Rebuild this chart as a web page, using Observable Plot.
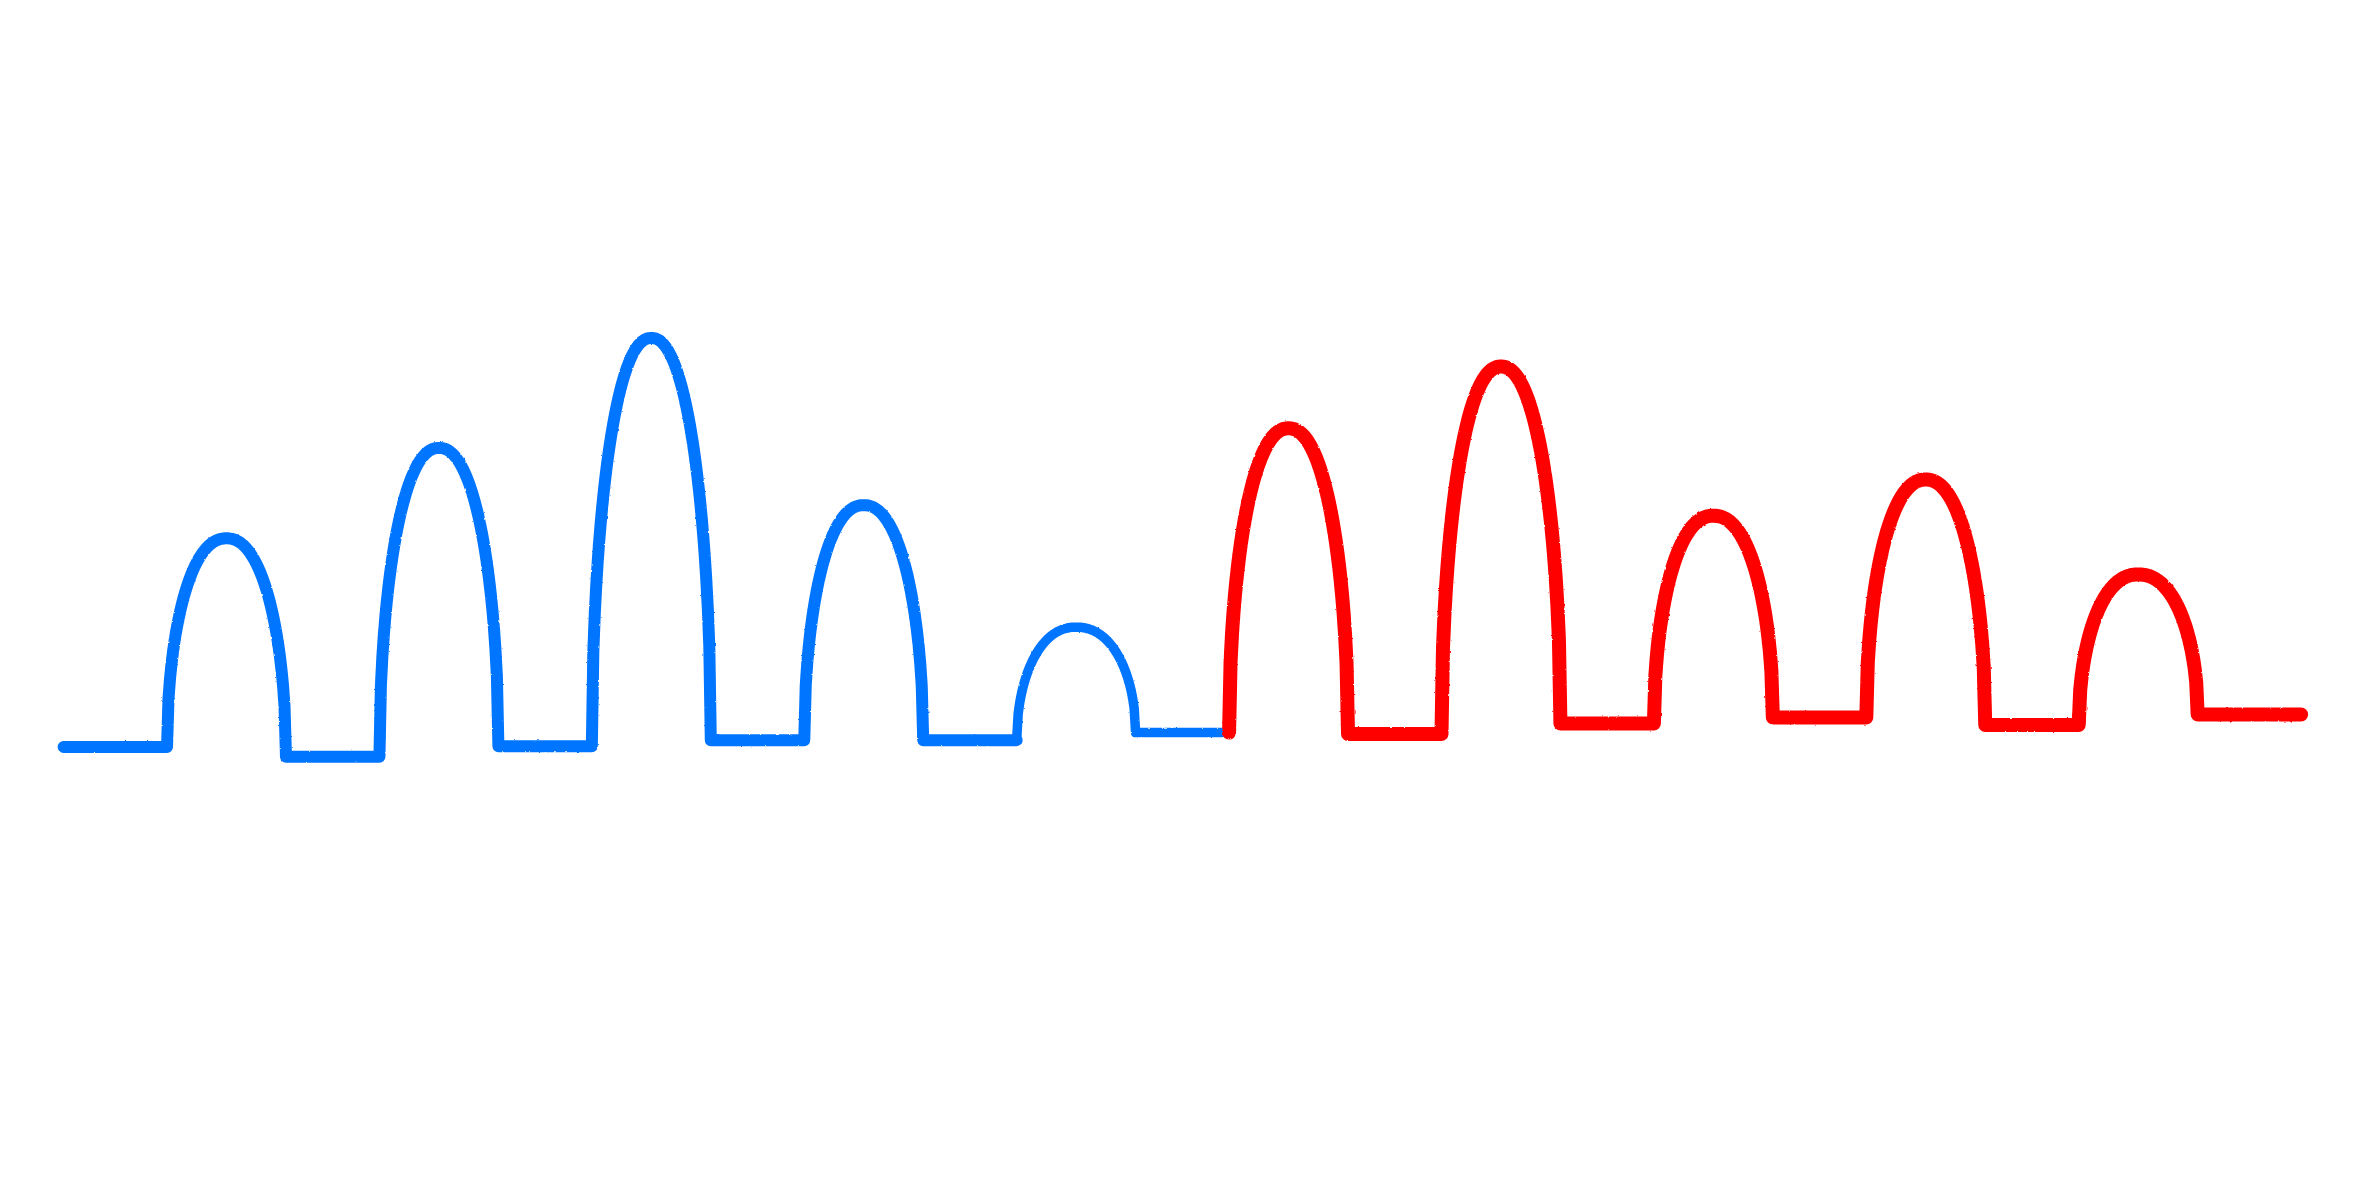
<!DOCTYPE html>
<html>
<head>
<meta charset="utf-8">
<script src="https://cdn.jsdelivr.net/npm/d3@7"></script>
<script src="https://cdn.jsdelivr.net/npm/@observablehq/plot@0.6"></script>
<style>
  html, body { margin: 0; padding: 0; background: #ffffff; }
  #chart { width: 2362px; height: 1181px; overflow: hidden; }
</style>
</head>
<body>
<div id="chart"></div>
<script>
// ---- data ----
const categories = ["1", "2", "3", "4", "5", "6", "7", "8", "9", "10"];
// peak height of each arch (same units as the baseline)
const peaks = [14.3, 20.3, 27.6, 16.5, 8.4, 21.6, 25.7, 15.8, 18.2, 11.9];
// level of the drawn baseline before each arch, and after the last one
const baselines = [0.45, -0.2, 0.5, 0.9, 0.9, 1.4, 1.3, 2.0, 2.4, 1.9, 2.6];
// which stroke each arch belongs to
const groups = ["blue", "blue", "blue", "blue", "thin", "red", "red", "red", "red", "red"];
const colors = { blue: "#0074ff", thin: "#0074ff", red: "#ff0000" };
const widths = { blue: 12, thin: 9.5, red: 14 };

// ---- line points built from the arrays above ----
const halfWidth = 0.28;   // arch half-width in slot units
const lead = 0.767;       // baseline run before the first / after the last arch
const profile = t => Math.pow(Math.max(0, 1 - Math.pow(Math.abs(t), 2.2)), 0.5);

const pts = [];
function push(g, x, y) { pts.push({ group: g, x, y }); }
categories.forEach((c, i) => {
  const g = groups[i];
  const baseL = baselines[i], baseR = baselines[i + 1];
  const prevGroup = i === 0 ? g : groups[i - 1];
  if (i === 0) push(g, -lead, baseL);
  push(prevGroup, i - halfWidth, baseL);
  if (prevGroup !== g) push(g, i - halfWidth, baseL);
  const n = 80;
  for (let k = 0; k <= n; k++) {
    const t = -1 + 2 * k / n;
    const base = t < 0 ? baseL : baseR;
    push(g, i + t * halfWidth, base + (peaks[i] - base) * profile(t));
  }
  if (i === categories.length - 1) push(g, i + lead, baseR);
});

const plot = Plot.plot({
  width: 2362, height: 1181, margin: 0,
  x: { domain: [-1.064, 10.056], axis: null },
  y: { domain: [-28.4, 50], axis: null },
  style: { background: "#ffffff" },
  marks: ["blue", "thin", "red"].map(g =>
    Plot.line(pts.filter(d => d.group === g), {
      x: "x", y: "y", stroke: colors[g], strokeWidth: widths[g],
      strokeLinecap: "round", strokeLinejoin: "round"
    })
  )
});

// crayon-like soft, slightly rough edge
const ns = "http://www.w3.org/2000/svg";
const defs = document.createElementNS(ns, "defs");
defs.innerHTML = `
  <filter id="crayon" x="-5%" y="-5%" width="110%" height="110%">
    <feTurbulence type="fractalNoise" baseFrequency="0.3" numOctaves="2" seed="3" result="n"/>
    <feDisplacementMap in="SourceGraphic" in2="n" scale="2" xChannelSelector="R" yChannelSelector="G" result="d"/>
    <feGaussianBlur in="d" stdDeviation="0.5"/>
  </filter>`;
plot.insertBefore(defs, plot.firstChild);
plot.querySelectorAll("g[aria-label='line']").forEach(gr => gr.setAttribute("filter", "url(#crayon)"));

document.getElementById("chart").appendChild(plot);
</script>
</body>
</html>
